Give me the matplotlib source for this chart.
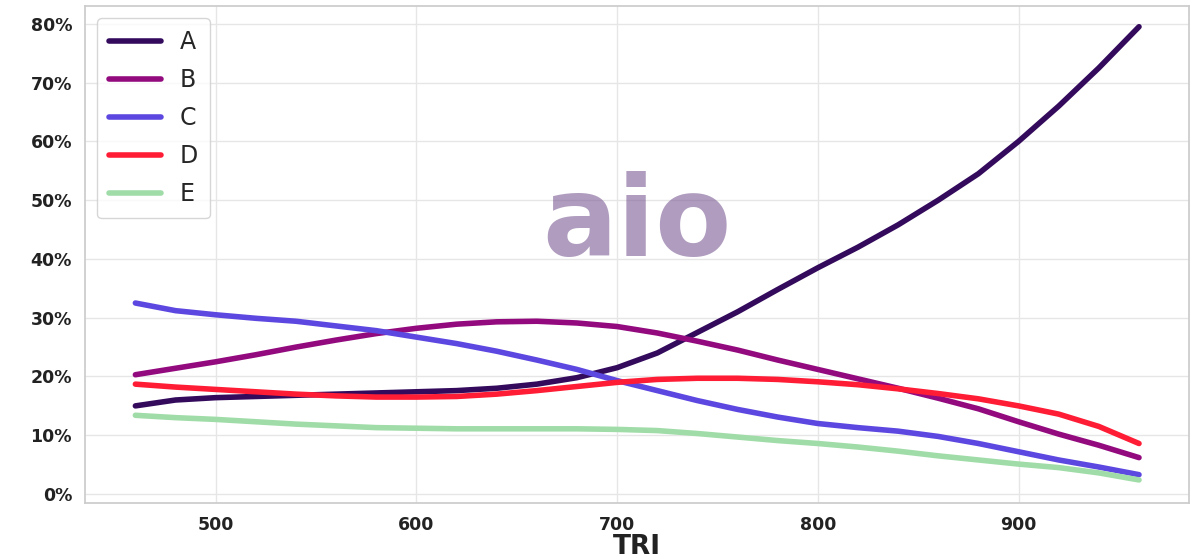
import matplotlib
matplotlib.use("Agg")
import matplotlib.pyplot as plt
import seaborn as sns
from matplotlib.ticker import FuncFormatter

x = [460,480,500,520,540,560,580,600,620,640,660,680,700,720,740,760,780,800,820,840,860,880,900,920,940,960]
A = [15,16,16.4,16.6,16.8,17,17.2,17.4,17.6,18,18.7,19.8,21.5,24,27.5,31,34.8,38.5,42,45.8,50,54.5,60,66,72.5,79.5]
B = [20.3,21.4,22.5,23.7,25,26.2,27.3,28.2,28.9,29.3,29.4,29.1,28.5,27.4,26,24.5,22.8,21.2,19.6,18,16.3,14.5,12.3,10.2,8.3,6.2]
C = [32.5,31.2,30.5,29.9,29.4,28.6,27.8,26.7,25.6,24.3,22.8,21.2,19.3,17.6,15.9,14.4,13.1,12,11.3,10.7,9.8,8.6,7.2,5.8,4.6,3.3]
D = [18.7,18.2,17.8,17.4,17,16.7,16.5,16.5,16.6,17,17.6,18.3,19,19.5,19.7,19.7,19.5,19.1,18.6,17.9,17.1,16.2,15,13.6,11.5,8.6]
E = [13.4,13,12.7,12.3,11.9,11.6,11.3,11.2,11.1,11.1,11.1,11.1,11,10.8,10.3,9.7,9.1,8.6,8,7.3,6.5,5.8,5.1,4.5,3.6,2.4]
series = {"A": A, "B": B, "C": C, "D": D, "E": E}
colors = {"A": "#330a5c", "B": "#920a7e", "C": "#5c48e0", "D": "#ff1c35", "E": "#a0dca8"}

sns.set_theme(style="whitegrid")
fig = plt.figure(figsize=(12, 5.6), dpi=100)
ax = fig.add_axes([0.071, 0.102, 0.92, 0.887])
for k, v in series.items():
    ax.plot(x, v, color=colors[k], lw=4, label=k, solid_capstyle="round")
ax.set_xlim(435, 985)
ax.set_ylim(-1.5, 83)
ax.set_xticks([500, 600, 700, 800, 900])
ax.set_yticks(range(0, 81, 10))
ax.yaxis.set_major_formatter(FuncFormatter(lambda v, p: f"{int(v)}%"))
for lab in ax.get_xticklabels() + ax.get_yticklabels():
    lab.set_fontweight("bold"); lab.set_fontsize(12.5); lab.set_color("#222222")
ax.set_xlabel("TRI", fontsize=19, fontweight="bold", color="#222222", labelpad=0)
for s in ax.spines.values():
    s.set_color("#cccccc")
ax.grid(color="#e6e6e6")
ax.text(0.5, 0.56, "aio", transform=ax.transAxes, fontsize=80, fontweight="bold",
        color="#7a5a93", alpha=0.6, ha="center", va="center")
ax.legend(loc="upper left", fontsize=17, handlelength=2.2, borderpad=0.5, labelspacing=0.6)
fig.savefig("out.png")
